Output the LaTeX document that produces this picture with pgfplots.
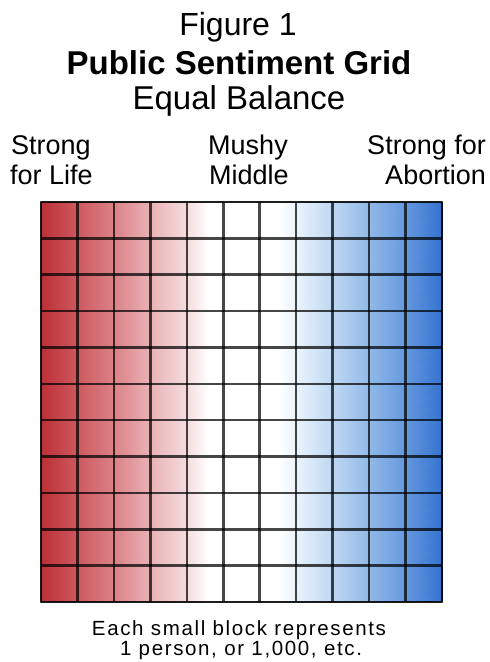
\documentclass[border=0pt]{standalone}
\usepackage{pgfplots}
\pgfplotsset{compat=1.18}
\usepackage{fontspec}
\setmainfont{Liberation Sans}
\newfontfamily\spacedfont[LetterSpace=8]{Liberation Sans}
\begin{document}
\begin{tikzpicture}[x=1bp,y=1bp]
\useasboundingbox (0,0) rectangle (490,662);
\begin{axis}[
  at={(41bp,60bp)}, anchor=south west,
  scale only axis, width=401bp, height=400bp,
  xmin=0, xmax=11, ymin=0, ymax=11,
  xtick={0,...,11}, ytick={0,...,11},
  xticklabels={}, yticklabels={},
  major tick length=0pt,
  grid=major,
  major grid style={draw=black, draw opacity=0.72, line width=2.6bp},
  axis line style={draw=black, draw opacity=0.6, line width=2.2bp},
  axis on top,
  colormap={rwb}{rgb255(0)=(188,48,54); rgb255(1)=(205,88,94); rgb255(2)=(219,130,135); rgb255(3)=(233,178,182); rgb255(4)=(245,220,222); rgb255(4.6)=(255,255,255); rgb255(6.5)=(255,255,255); rgb255(7.2)=(225,238,250); rgb255(8)=(190,215,242); rgb255(9)=(145,185,232); rgb255(10)=(100,152,222); rgb255(11)=(52,115,208)},
  point meta min=0, point meta max=11,
]
\addplot[surf, shader=interp, mesh/rows=2, point meta=explicit] coordinates {
(0,0) [0] (1,0) [1] (2,0) [2] (3,0) [3] (4,0) [4] (4.6,0) [4.6] (5,0) [5] (6,0) [6] (6.5,0) [6.5] (7,0) [7] (8,0) [8] (9,0) [9] (10,0) [10] (11,0) [11]

(0,11) [0] (1,11) [1] (2,11) [2] (3,11) [3] (4,11) [4] (4.6,11) [4.6] (5,11) [5] (6,11) [6] (6.5,11) [6.5] (7,11) [7] (8,11) [8] (9,11) [9] (10,11) [10] (11,11) [11]
};
\end{axis}
\node[anchor=base, font=\fontsize{32bp}{36bp}\selectfont] at (238,626) {Figure 1};
\node[anchor=base, font=\fontsize{33bp}{36bp}\selectfont\bfseries] at (239,587) {Public Sentiment Grid};
\node[anchor=base, font=\fontsize{33bp}{36bp}\selectfont] at (239,552) {Equal Balance};
\node[anchor=base west, inner sep=0pt, font=\fontsize{27bp}{30bp}\selectfont] at (11,507) {Strong};
\node[anchor=base west, inner sep=0pt, font=\fontsize{27bp}{30bp}\selectfont] at (10,477) {for Life};
\node[anchor=base, inner sep=0pt, font=\fontsize{27bp}{30bp}\selectfont] at (248,507) {Mushy};
\node[anchor=base, inner sep=0pt, font=\fontsize{27bp}{30bp}\selectfont] at (249,477) {Middle};
\node[anchor=base east, inner sep=0pt, font=\fontsize{27bp}{30bp}\selectfont] at (486,507) {Strong for};
\node[anchor=base east, inner sep=0pt, font=\fontsize{27bp}{30bp}\selectfont] at (486,477) {Abortion};
\node[anchor=base, inner sep=0pt, font=\spacedfont\fontsize{20.5bp}{24bp}\selectfont] at (239,26) {Each small block represents};
\node[anchor=base, inner sep=0pt, font=\spacedfont\fontsize{20.5bp}{24bp}\selectfont] at (241,6) {1 person, or 1,000, etc.};
\end{tikzpicture}
\end{document}
